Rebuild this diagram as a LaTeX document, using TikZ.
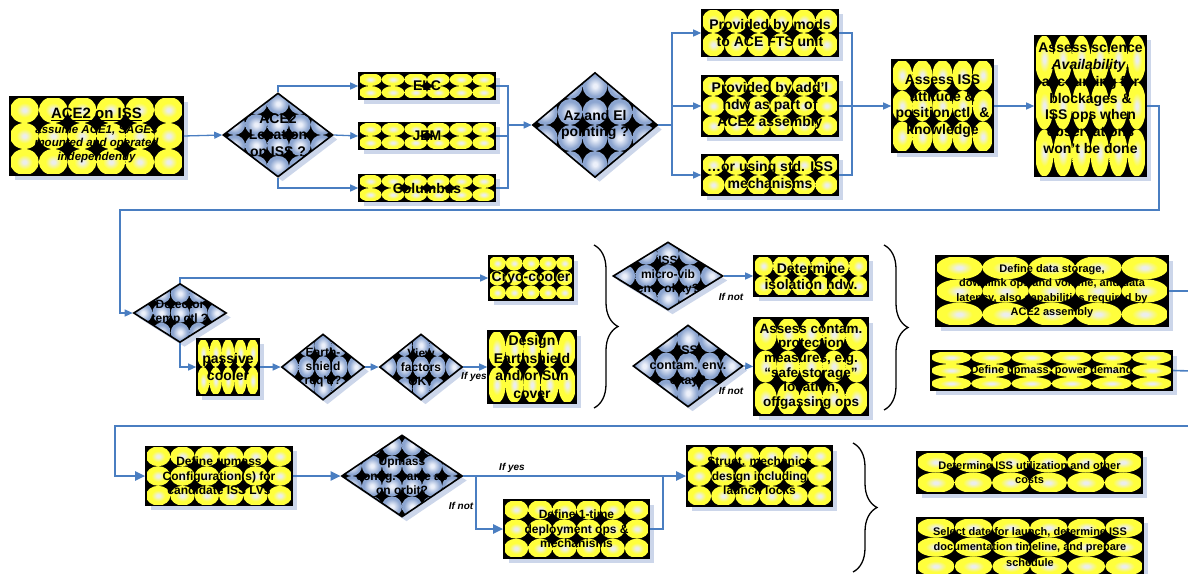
\documentclass[tikz,border=0pt]{standalone}
\usepackage{fontspec}
\setmainfont{Liberation Sans}
\usetikzlibrary{arrows.meta,shapes.geometric,shadows,decorations.pathreplacing}
\definecolor{lineblue}{RGB}{74,126,193}
\definecolor{shadowc}{RGB}{204,214,234}
\definecolor{yelo}{RGB}{255,255,60}
\definecolor{yeli}{RGB}{236,238,236}
\definecolor{bluo}{RGB}{140,165,208}
\definecolor{blui}{RGB}{236,240,250}
\pgfdeclareradialshading{yshade}{\pgfpointorigin}{color(0bp)=(yeli); color(3bp)=(yeli); color(14bp)=(yelo); color(50bp)=(yelo)}
\pgfdeclareradialshading{bshade}{\pgfpointorigin}{color(0bp)=(blui); color(4bp)=(blui); color(20bp)=(bluo); color(50bp)=(bluo)}
\makeatletter
\tikzset{
  tile/.style n args={3}{path picture={%
    \pgfpointdiff{\pgfpointanchor{path picture bounding box}{south west}}{\pgfpointanchor{path picture bounding box}{north east}}%
    \edef\tilew{\the\pgf@x}\edef\tileh{\the\pgf@y}%
    \pgfmathsetmacro\cw{\tilew/#1}\pgfmathsetmacro\ch{\tileh/#2}%
    \fill[black] (path picture bounding box.south west) rectangle (path picture bounding box.north east);
    \foreach \i in {1,...,#1}{\foreach \j in {1,...,#2}{%
      \shade[shading=#3] ([shift={({(\i-0.5)*\cw pt},{(\j-0.5)*\ch pt})}]path picture bounding box.south west) ellipse [x radius={0.5*\cw pt}, y radius={0.5*\ch pt}];
    }}%
  }},
}
\makeatother
\tikzset{
  base/.style={draw=black, line width=1.6pt, inner sep=1pt, align=center,
     drop shadow={shadow xshift=4.5pt, shadow yshift=-4.5pt, fill=shadowc, opacity=1}},
  ybox/.style n args={4}{base, rectangle, minimum width=#1, minimum height=#2, tile={#3}{#4}{yshade}},
  bdia/.style n args={4}{base, diamond, inner sep=0pt, minimum width=#1, minimum height=#2, tile={#3}{#4}{bshade}},
  txt/.style={align=center, inner sep=0pt},
  fA/.style={font=\bfseries\fontsize{14}{17}\selectfont},
  fB/.style={font=\bfseries\fontsize{14}{16.5}\selectfont},
  fC/.style={font=\bfseries\fontsize{12}{14}\selectfont},
  fD/.style={font=\bfseries\fontsize{12}{14.5}\selectfont},
  fE/.style={font=\bfseries\fontsize{11}{14.5}\selectfont},
  conn/.style={draw=lineblue, line width=1.3pt},
  arr/.style={conn, -{Triangle[length=8pt,width=7pt]}},
  connb/.style={draw=lineblue, line width=2.2pt},
  arrb/.style={connb, -{Triangle[length=10pt,width=9pt]}},
  lbl/.style={font=\bfseries\itshape\fontsize{10}{12}\selectfont, inner sep=0pt},
  brc/.style={draw=black, line width=1.3pt, decorate, decoration={brace, amplitude=24pt}},
}
\begin{document}
\begin{tikzpicture}[x=1pt,y=-1pt]
\useasboundingbox (0,0) rectangle (1188,573);
% ---------------- row 1
\node[ybox={173}{78}{6}{3}] (A) at (96.5,136) {};
\node[txt, font=\bfseries\fontsize{15}{18}\selectfont] (At1) at (96.5,114) {\underline{ACE2 on ISS}};
\node[txt, font=\bfseries\itshape\fontsize{11.5}{13.5}\selectfont] (At2) at (96.5,144) {assume ACE1, SAGE3\\mounted and operated\\independently};
\node[bdia={110}{84}{5}{4}] (D1) at (278,135) {};
\node[txt, fB] (D1t) at (D1.center) {ACE2\\Location\\on ISS ?};
\node[ybox={136}{26}{6}{2}, fA] (ELC) at (427,86) {ELC};
\node[ybox={136}{27}{6}{2}, fA] (JEM) at (427,136) {JEM};
\node[ybox={136}{27}{6}{2}, fA] (COL) at (427,188) {Columbus};
\node[bdia={125}{105}{5}{4}] (D2) at (595,125) {};
\node[txt, font=\bfseries\fontsize{14}{16}\selectfont] (D2t) at (D2.center) {Az and El\\pointing ?};
\node[ybox={136}{47}{6}{2}, fA] (P1) at (770,33) {Provided by mods\\to ACE FTS unit};
\node[ybox={136}{60}{6}{3}, fA] (P2) at (770,106) {Provided by add’l\\hdw as part of\\ACE2 assembly};
\node[ybox={136}{40}{6}{2}, fA] (P3) at (770,175) {…or using std. ISS\\mechanisms};
\node[ybox={101}{92}{5}{3}, fB] (Q1) at (942.5,106) {Assess ISS\\attitude \&\\position ctl. \&\\knowledge};
\node[ybox={111}{141}{6}{3}] (Q2) at (1090.5,106) {};
\node[txt, font=\bfseries\fontsize{14}{16.7}\selectfont] (Q2t) at ([yshift=8pt]Q2.center) {Assess science\\\textit{Availability},\\accounting for\\blockages \&\\ISS ops when\\observations\\won’t be done};
\coordinate (J1) at (508,125);
\coordinate (J2) at (672,125);
\coordinate (J3) at (852,106);
\coordinate (R1) at (1159,210);
\coordinate (R2) at (120,210);
\draw[arr] (A.east) -- (D1.west);
\draw[arr] (D1.north) |- (ELC.west);
\draw[arr] (D1.east) -- (JEM.west);
\draw[arr] (D1.south) |- (COL.west);
\draw[conn] (ELC.east) -| (J1);
\draw[conn] (COL.east) -| (J1);
\draw[conn] (JEM.east) -- (JEM.east -| J1);
\draw[arr] (J1) -- (D2.west);
\draw[conn] (D2.east) -- (J2);
\draw[arr] (J2) |- (P1.west);
\draw[arr] (J2) |- (P2.west);
\draw[arr] (J2) |- (P3.west);
\draw[conn] (P1.east) -| (J3);
\draw[conn] (P3.east) -| (J3);
\draw[conn] (P2.east) -- (J3);
\draw[arr] (J3) -- (Q1.west);
\draw[arr] (Q1.east) -- (Q2.west);
% ---------------- row 2
\node[bdia={93}{59}{5}{3}] (D3) at (180,313) {};
\node[txt, fC] (D3t) at (D3.center) {Detector\\temp ctl ?};
\node[ybox={84}{44}{5}{3}, fA] (CRY) at (531,278) {Cryo-cooler};
\node[ybox={62}{56}{5}{2}, fA] (PAS) at (228,367) {passive\\cooler};
\node[bdia={83}{66}{5}{3}] (D4) at (323,367) {};
\node[txt, fC] (D4t) at (D4.center) {Earth-\\shield\\req’d?};
\node[bdia={83}{66}{5}{3}] (D5) at (421,367) {};
\node[txt, fC] (D5t) at (D5.center) {View\\factors\\OK?};
\node[ybox={88}{72}{5}{2}, font=\bfseries\fontsize{14}{17.5}\selectfont] (DES) at (532,367) {Design\\Earthshield\\and/or Sun\\cover};
\draw[arr] (Q2.east) -| (R1) -- (R2) |- (D3.west);
\draw[arr] (D3.north) |- (CRY.west);
\draw[arr] (D3.south) |- (PAS.west);
\draw[arr] (PAS.east) -- (D4.west);
\draw[arr] (D4.east) -- (D5.west);
\draw[arr] (D5.east) -- (DES.west);
\node[lbl] (L1) at (474,377) {If yes};
\coordinate (B1a) at (594,245);
\coordinate (B1b) at (594,408);
\draw[brc] (B1a) -- (B1b);
\node[bdia={110}{68}{5}{3}] (D6) at (668,276) {};
\node[txt, fC] (D6t) at (D6.center) {ISS\\micro-vib\\env. okay?};
\node[ybox={114}{40}{6}{2}, font=\bfseries\fontsize{14}{16}\selectfont] (DET) at (811,276) {Determine\\isolation hdw.};
\node[bdia={110}{82}{5}{3}] (D7) at (688,366) {};
\node[txt, font=\bfseries\fontsize{12.5}{15}\selectfont] (D7t) at (D7.center) {ISS\\contam. env.\\okay?};
\node[ybox={114}{97}{5}{3}, font=\bfseries\fontsize{13.5}{14.6}\selectfont] (ASS) at (811,366.5) {Assess contam.\\protection\\measures, e.g.\\“safe storage”\\location,\\offgassing ops};
\draw[arr] (D6.east) -- (DET.west);
\draw[arr] (D7.east) -- (ASS.west);
\node[lbl] (L2) at (731,297) {If not};
\node[lbl] (L3) at (731,391) {If not};
\coordinate (B2a) at (884,245);
\coordinate (B2b) at (884,410);
\draw[brc] (B2a) -- (B2b);
\node[ybox={232}{70}{5}{3}, fE] (DAT) at (1052,291) {Define data storage,\\downlink ops and volume, and data\\latency, also capabilities required by\\ACE2 assembly};
\node[ybox={241}{39}{6}{3}, fE] (UPM) at (1051.5,370.5) {Define upmass, power demand};
\coordinate (E1) at (1192,291);
\coordinate (E2) at (1192,371);
\draw[conn, line width=1.6pt] (DAT.east) -- (E1);
\draw[conn, line width=1.6pt] (UPM.east) -- (E2);
% ---------------- row 3
\coordinate (E3) at (1192,426);
\coordinate (R3) at (115,426);
\node[ybox={146}{59}{6}{3}, fD] (DU) at (219,476) {Define upmass\\Configuration(s) for\\candidate ISS LVs};
\node[bdia={121}{82}{6}{4}] (D8) at (402,476) {};
\node[txt, fD] (D8t) at (D8.center) {Upmass\\config. same as\\on orbit?};
\node[ybox={145}{60}{6}{3}, fD] (STR) at (759.5,476) {Struct. mechanics\\design including\\launch locks};
\node[ybox={145}{58}{6}{3}, fD] (DEF) at (576.5,529) {Define 1-time\\deployment ops \&\\mechanisms};
\coordinate (B3) at (476,476);
\coordinate (B4) at (663,476);
\draw[arrb] (E3) -- (R3) |- (DU.west);
\draw[arrb] (DU.east) -- (D8.west);
\draw[arrb] (D8.east) -- (STR.west);
\draw[arrb] (B3) |- (DEF.west);
\draw[connb] (DEF.east) -| (B4);
\node[lbl] (L4) at (512,468) {If yes};
\node[lbl] (L5) at (461,506) {If not};
\coordinate (B5a) at (853,443);
\coordinate (B5b) at (853,572);
\draw[brc] (B5a) -- (B5b);
\node[ybox={225}{41}{6}{2}, font=\bfseries\fontsize{11}{14}\selectfont] (UTI) at (1029.5,472.5) {Determine ISS utilization and other\\costs};
\node[ybox={226}{58}{6}{3}, font=\bfseries\fontsize{11}{15.5}\selectfont] (SEL) at (1030,547) {Select date for launch, determine ISS\\documentation timeline, and prepare\\schedule};
\end{tikzpicture}
\end{document}
